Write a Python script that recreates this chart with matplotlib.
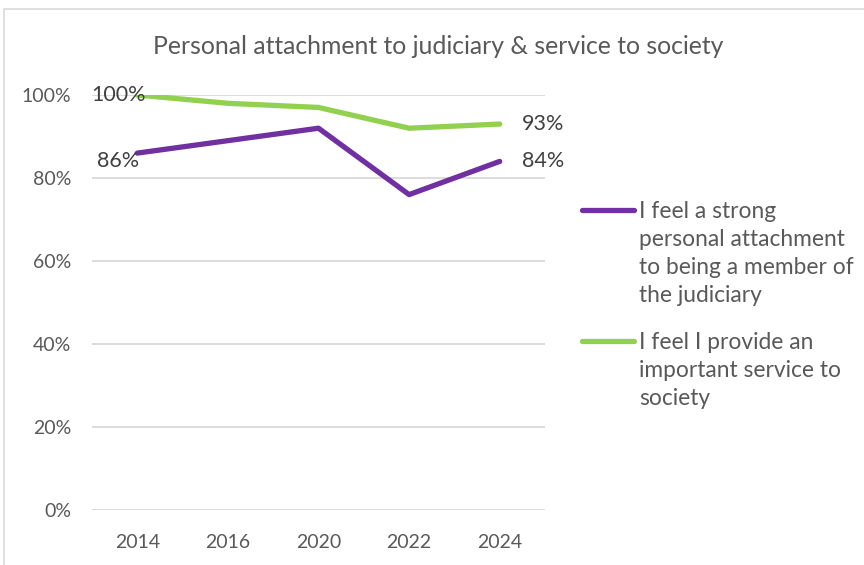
import matplotlib
matplotlib.use("Agg")
import matplotlib.pyplot as plt
from matplotlib.lines import Line2D
from matplotlib.patches import Rectangle

plt.rcParams['font.family'] = ['Lato', 'DejaVu Sans']

years = ['2014', '2016', '2020', '2022', '2024']
attachment = [86, 89, 92, 76, 84]
service = [100, 98, 97, 92, 93]
yticks = [0, 20, 40, 60, 80, 100]

names = ['I feel a strong\npersonal attachment\nto being a member of\nthe judiciary',
         'I feel I provide an\nimportant service to\nsociety']
colors = ['#7030A0', '#92D050']
grey = '#595959'

fig = plt.figure(figsize=(8.64, 5.65), dpi=100)

# chart frame
fig.add_artist(Rectangle((4 / 864, -0.05), 1.0, 1 - 9 / 565 + 0.05,
                         transform=fig.transFigure, fill=False,
                         edgecolor='#d9d9d9', linewidth=1.2))

ax = fig.add_axes([92 / 864, 1 - 510 / 565, 453 / 864, 415 / 565])
x = list(range(len(years)))
ax.plot(x, attachment, color=colors[0], linewidth=3.8, solid_capstyle='round', zorder=3)
ax.plot(x, service, color=colors[1], linewidth=3.8, solid_capstyle='round', zorder=3)

ax.set_xlim(-0.5, len(years) - 0.5)
ax.set_ylim(0, 100)
ax.set_yticks(yticks)
ax.set_yticklabels([f'{v}%' for v in yticks])
ax.set_xticks(x)
ax.set_xticklabels(years)
ax.grid(axis='y', color='#d9d9d9', linewidth=1.3)
ax.set_axisbelow(True)
for s in ax.spines.values():
    s.set_visible(False)
ax.tick_params(length=0, colors=grey)
ax.tick_params(axis='x', pad=17, labelsize=14)
ax.tick_params(axis='y', pad=15, labelsize=14)

# end point labels
lab = dict(textcoords='offset points', ha='left', va='center', fontsize=15.5, color='#404040')
ax.annotate(f'{service[0]}%', (x[0], service[0]), xytext=(-33, 0), **lab)
ax.annotate(f'{attachment[0]}%', (x[0], attachment[0]), xytext=(-29, -6), **lab)
ax.annotate(f'{service[-1]}%', (x[-1], service[-1]), xytext=(16, 0), **lab)
ax.annotate(f'{attachment[-1]}%', (x[-1], attachment[-1]), xytext=(16, 0), **lab)

fig.text(438 / 864, 1 - 46 / 565, 'Personal attachment to judiciary & service to society',
         ha='center', va='center', fontsize=17.8, color=grey)

# legend
for top, name, c in zip([210, 341], names, colors):
    yf = 1 - top / 565
    fig.add_artist(Line2D([582 / 864, 634 / 864], [yf, yf], transform=fig.transFigure,
                          color=c, linewidth=3.8, solid_capstyle='round'))
    fig.text(639 / 864, yf + 9 / 565, name, ha='left', va='top', fontsize=16.4,
             color=grey, linespacing=1.42)

fig.savefig('out.png', dpi=100)
